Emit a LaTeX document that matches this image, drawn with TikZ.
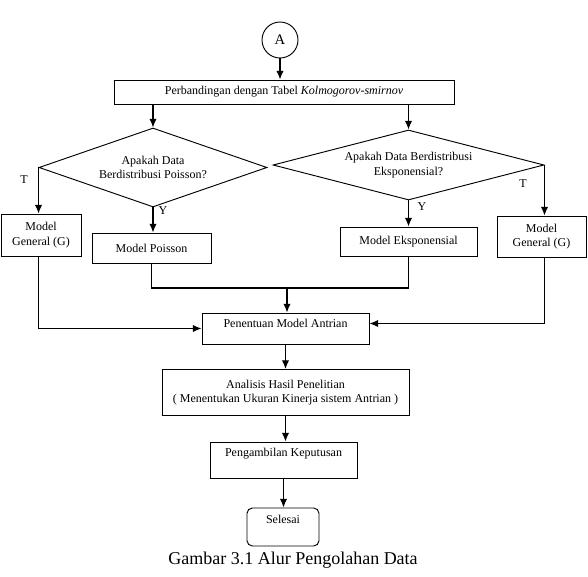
\documentclass[tikz,border=0pt]{standalone}
\usepackage{fontspec}
\setmainfont{Liberation Serif}
\usetikzlibrary{shapes.geometric,arrows.meta}
\begin{document}
\begin{tikzpicture}[x=0.75pt,y=-0.75pt]
% Styles
\def\Ech{0.75pt}
\tikzstyle{cadre}=[draw,line width=0.7pt]
\tikzstyle{boite}=[cadre,rectangle,inner sep=2pt,align=center,font=\fontsize{9}{11}\selectfont]
\tikzstyle{choix}=[cadre,diamond,inner sep=0pt,align=center,font=\fontsize{9}{11}\selectfont]
\tikzstyle{cercle}=[cadre,circle,inner sep=0pt,minimum size=36*\Ech,font=\fontsize{11}{13}\selectfont]
\tikzstyle{lettre}=[inner sep=1pt,font=\fontsize{9}{11}\selectfont]
\tikzstyle{fleche}=[-{Latex[length=6.5pt,width=5.5pt]},line width=0.9pt]
\tikzstyle{trait}=[line width=0.9pt]
\useasboundingbox (0,0) rectangle (588,577);
% Debut et comparaison
\node[cercle] (A) at (280,40) {A};
\node[boite,minimum width=340*\Ech,minimum height=24*\Ech] (perb) at (284,92) {Perbandingan dengan Tabel \textit{Kolmogorov-smirnov}};
% Decisions
\node[choix,shape aspect=2.89,minimum width=228*\Ech,minimum height=79*\Ech] (d1) at (153,167.5) {Apakah Data\\Berdistribusi Poisson?};
\node[choix,shape aspect=3.87,minimum width=271*\Ech,minimum height=70*\Ech] (d2) at (408.5,165) {Apakah Data Berdistribusi\\Eksponensial?};
\node[lettre] (tG) at (24,180) {T};
\node[lettre] (yG) at (163,211) {Y};
\node[lettre] (yD) at (422,207) {Y};
\node[lettre] (tD) at (523,184) {T};
% Modeles
\node[boite,minimum width=80*\Ech,minimum height=42*\Ech] (gG) at (41,235) {Model\\General (G)};
\node[boite,minimum width=119*\Ech,minimum height=30*\Ech] (poi) at (151.5,248) {Model Poisson};
\node[boite,minimum width=137*\Ech,minimum height=29*\Ech] (eks) at (408.5,241.5) {Model Eksponensial};
\node[boite,minimum width=89*\Ech,minimum height=41*\Ech] (gD) at (541.5,236.5) {Model\\General (G)};
% Suite du processus
\node[boite,minimum width=167*\Ech,minimum height=31*\Ech,text depth=7pt] (pen) at (285.5,328.5) {Penentuan Model Antrian};
\node[boite,minimum width=247*\Ech,minimum height=46*\Ech] (ana) at (285.5,392.5) {Analisis Hasil Penelitian\\( Menentukan Ukuran Kinerja sistem Antrian )};
\node[boite,minimum width=147*\Ech,minimum height=36*\Ech,text depth=11pt] (pgb) at (283.5,460) {Pengambilan Keputusan};
\node[boite,rounded corners=4pt,minimum width=72*\Ech,minimum height=38*\Ech,text depth=11pt] (sel) at (283,527) {Selesai};
\node[font=\fontsize{13.5}{16}\selectfont] (titre) at (293,560) {Gambar 3.1 Alur Pengolahan Data};
% Fleches
\draw[fleche] (A.south) -- (A.south |- perb.north);
\draw[fleche] (d1.north |- perb.south) -- (d1.north);
\draw[fleche] (d2.north |- perb.south) -- (d2.north);
\draw[fleche] (d1.west) -- (d1.west |- gG.north);
\draw[fleche] (d1.south) -- (d1.south |- poi.north);
\draw[fleche] (d2.south) -- (d2.south |- eks.north);
\draw[fleche] (d2.east) -- (d2.east |- gD.north);
\coordinate (jonction) at (287,288);
\draw[trait] (poi.south) |- (jonction) -| (eks.south);
\draw[fleche] (jonction) -- (jonction |- pen.north);
\draw[fleche] (gG.south -| d1.west) |- (pen.west);
\draw[fleche] (gD.south -| d2.east) |- ([yshift=3.75pt]pen.east);
\draw[fleche] (pen.south) -- (pen.south |- ana.north);
\draw[fleche] (ana.south) -- (ana.south |- pgb.north);
\draw[fleche] (pgb.south) -- (pgb.south |- sel.north);
\end{tikzpicture}
\end{document}
